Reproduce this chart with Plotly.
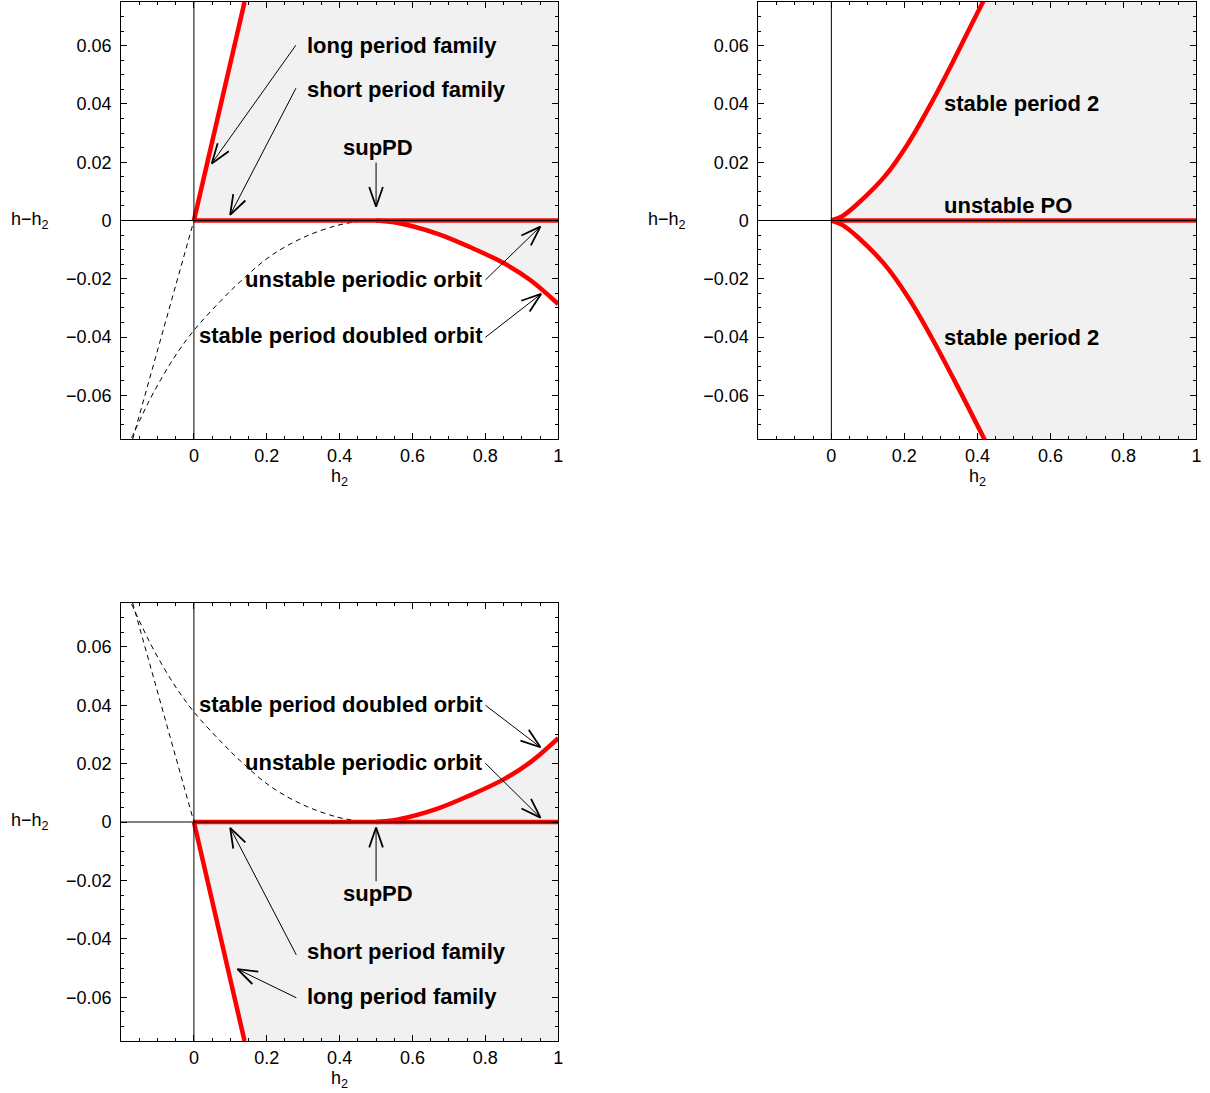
import math
import plotly.graph_objects as go

W, H = 1210, 1093
W_EFF = 1204.5  # horizontal size the page effectively lays the figure out at
X_MIN, X_MAX = -0.2, 1.0
Y_MIN, Y_MAX = -0.075, 0.075

# ---------------- data ----------------
x_tick_vals = [0, 0.2, 0.4, 0.6, 0.8, 1.0]
x_tick_text = ["0", "0.2", "0.4", "0.6", "0.8", "1"]
y_tick_vals = [-0.06, -0.04, -0.02, 0, 0.02, 0.04, 0.06]
y_tick_text = ["\u22120.06", "\u22120.04", "\u22120.02", "0", "0.02", "0.04", "0.06"]

# top-left panel
tl_long_x = [0.0, 0.139]
tl_long_y = [0.0, 0.075]
tl_long_dash_x = [-0.168, 0.0]
tl_long_dash_y = [-0.075, 0.0]
tl_po_x = [0.0, 1.0]
tl_po_y = [0.0, 0.0]
tl_pd_dash_x = [-0.171, -0.14, -0.111, -0.056, 0.0, 0.072, 0.127, 0.209, 0.301, 0.393, 0.45, 0.5]
tl_pd_dash_y = [-0.0746, -0.0663, -0.0591, -0.0474, -0.0377, -0.0278, -0.0210, -0.0123, -0.0058, -0.0017, -0.0004, 0.0]
tl_pd_x = [0.5, 0.557, 0.667, 0.759, 0.85, 0.924, 1.0]
tl_pd_y = [0.0, -0.0008, -0.0045, -0.0092, -0.0146, -0.0205, -0.0287]

# top-right panel
tr_up_x = [0.0, 0.03, 0.075, 0.148, 0.212, 0.276, 0.331, 0.386, 0.42]
tr_up_y = [0.0, 0.0015, 0.0061, 0.0154, 0.0268, 0.0408, 0.0540, 0.0678, 0.0762]
tr_low_x = [0.0, 0.03, 0.075, 0.148, 0.212, 0.276, 0.349, 0.422]
tr_low_y = [0.0, -0.0015, -0.0060, -0.0154, -0.0267, -0.0405, -0.0578, -0.0758]
tr_po_x = [0.0, 1.0]
tr_po_y = [0.0, 0.0]

# bottom-left panel
bl_long_x = [0.0, 0.139]
bl_long_y = [0.0, -0.075]
bl_long_dash_x = [-0.168, 0.0]
bl_long_dash_y = [0.075, 0.0]
bl_po_x = [0.0, 1.0]
bl_po_y = [0.0, 0.0]
bl_pd_dash_x = [-0.171, -0.14, -0.111, -0.056, 0.0, 0.072, 0.127, 0.209, 0.301, 0.393, 0.45, 0.5]
bl_pd_dash_y = [0.0746, 0.0663, 0.0591, 0.0474, 0.0377, 0.0278, 0.0210, 0.0123, 0.0058, 0.0017, 0.0004, 0.0]
bl_pd_x = [0.5, 0.557, 0.667, 0.759, 0.85, 0.924, 1.0]
bl_pd_y = [0.0, 0.0008, 0.0045, 0.0092, 0.0146, 0.0205, 0.0287]

# labels: (text, x, y, xanchor)
tl_labels = [
    ("long period family", 0.304, 0.0602, "left"),
    ("short period family", 0.304, 0.0451, "left"),
    ("supPD", 0.506, 0.0252, "center"),
    ("unstable periodic orbit", 0.800, -0.0201, "right"),
    ("stable period doubled orbit", 0.800, -0.0396, "right"),
]
tr_labels = [
    ("stable period 2", 0.303, 0.0403, "left"),
    ("unstable PO", 0.303, 0.0053, "left"),
    ("stable period 2", 0.303, -0.0400, "left"),
]
bl_labels = [
    ("stable period doubled orbit", 0.800, 0.0403, "right"),
    ("unstable periodic orbit", 0.800, 0.0204, "right"),
    ("supPD", 0.506, -0.0245, "center"),
    ("short period family", 0.304, -0.0444, "left"),
    ("long period family", 0.304, -0.0599, "left"),
]
# arrows: (tail_x, tail_y, tip_x, tip_y)
tl_arrows = [
    (0.280, 0.0602, 0.049, 0.0196),
    (0.280, 0.0454, 0.0995, 0.0019),
    (0.500, 0.0199, 0.500, 0.0047),
    (0.800, -0.0204, 0.951, -0.0021),
    (0.800, -0.0401, 0.953, -0.0252),
]
bl_arrows = [
    (0.800, 0.0400, 0.951, 0.0256),
    (0.800, 0.0201, 0.951, 0.0015),
    (0.500, -0.0203, 0.500, -0.0019),
    (0.281, -0.0455, 0.0995, -0.0020),
    (0.281, -0.0602, 0.1195, -0.0504),
]

# ---------------- layout geometry ----------------
dom_tl = ([121 / W_EFF, 558 / W_EFF], [1 - 439 / H, 1 - 2 / H])
dom_tr = ([758 / W_EFF, 1196 / W_EFF], [1 - 439 / H, 1 - 2 / H])
dom_bl = ([121 / W_EFF, 558 / W_EFF], [1 - 1041 / H, 1 - 603 / H])

RED = "#ff0000"
FILL = "#f1f1f1"
FONT = "Liberation Sans, Arial, Helvetica, sans-serif"

fig = go.Figure()


def add_line(x, y, xa, ya, color, width, dash=None, shape="linear"):
    fig.add_trace(go.Scatter(x=x, y=y, xaxis=xa, yaxis=ya, mode="lines",
                             line=dict(color=color, width=width, dash=dash, shape=shape),
                             hoverinfo="skip", showlegend=False))


def add_fill(x, y, xa, ya):
    fig.add_trace(go.Scatter(x=x, y=y, xaxis=xa, yaxis=ya, mode="lines", fill="toself",
                             fillcolor=FILL, line=dict(width=0, color=FILL),
                             hoverinfo="skip", showlegend=False))


def scales(dom):
    sx = (dom[0][1] - dom[0][0]) * W_EFF / (X_MAX - X_MIN)
    sy = (dom[1][1] - dom[1][0]) * H / (Y_MAX - Y_MIN)
    return sx, sy


def add_arrows(arrows, dom, xa, ya, L=21, ang=19):
    sx, sy = scales(dom)
    for tx, ty, px, py in arrows:
        add_line([tx, px], [ty, py], xa, ya, "black", 1)
        dx, dy = (px - tx) * sx, (py - ty) * sy
        n = math.hypot(dx, dy)
        ux, uy = -dx / n, -dy / n
        hx, hy = [], []
        for s in (1, -1):
            a = math.radians(ang * s)
            rx = ux * math.cos(a) - uy * math.sin(a)
            ry = ux * math.sin(a) + uy * math.cos(a)
            hx.append(px + L * rx / sx)
            hy.append(py + L * ry / sy)
        add_line([hx[0], px, hx[1]], [hy[0], py, hy[1]], xa, ya, "black", 1.8)


# ---- top-left
add_fill(tl_long_x + [X_MAX, X_MAX], tl_long_y + [Y_MAX, 0.0], "x", "y")
add_fill(tl_pd_x + [tl_pd_x[-1]], tl_pd_y + [0.0], "x", "y")
add_line(tl_long_dash_x, tl_long_dash_y, "x", "y", "black", 1, dash="5px,4px")
add_line(tl_pd_dash_x, tl_pd_dash_y, "x", "y", "black", 1, dash="5px,4px", shape="spline")
add_line(tl_po_x, tl_po_y, "x", "y", RED, 4.5)
add_line(tl_pd_x, tl_pd_y, "x", "y", RED, 4.5, shape="spline")
add_line(tl_long_x, tl_long_y, "x", "y", RED, 4.5)
add_arrows(tl_arrows, dom_tl, "x", "y")

# ---- top-right
add_fill(tr_up_x + [X_MAX, X_MAX] + tr_low_x[::-1], tr_up_y + [Y_MAX, Y_MIN] + tr_low_y[::-1], "x2", "y2")
add_line(tr_po_x, tr_po_y, "x2", "y2", RED, 4.5)
add_line(tr_up_x, tr_up_y, "x2", "y2", RED, 4.5, shape="spline")
add_line(tr_low_x, tr_low_y, "x2", "y2", RED, 4.5, shape="spline")

# ---- bottom-left
add_fill(bl_long_x + [X_MAX, X_MAX], bl_long_y + [Y_MIN, 0.0], "x3", "y3")
add_fill(bl_pd_x + [bl_pd_x[-1]], bl_pd_y + [0.0], "x3", "y3")
add_line(bl_long_dash_x, bl_long_dash_y, "x3", "y3", "black", 1, dash="5px,4px")
add_line(bl_pd_dash_x, bl_pd_dash_y, "x3", "y3", "black", 1, dash="5px,4px", shape="spline")
add_line(bl_po_x, bl_po_y, "x3", "y3", RED, 4.5)
add_line(bl_pd_x, bl_pd_y, "x3", "y3", RED, 4.5, shape="spline")
add_line(bl_long_x, bl_long_y, "x3", "y3", RED, 4.5)
add_arrows(bl_arrows, dom_bl, "x3", "y3")

tickfont = dict(family=FONT, size=18, color="black")


def xaxis(dom, anchor):
    return dict(domain=dom, anchor=anchor, range=[X_MIN, X_MAX], showgrid=False, zeroline=False,
                showline=True, linecolor="black", linewidth=1, mirror="ticks",
                ticks="inside", ticklen=6, tickwidth=1, tickcolor="black",
                tickmode="array", tickvals=x_tick_vals, ticktext=x_tick_text, tickfont=tickfont,
                minor=dict(ticks="inside", ticklen=3, tickwidth=1, tickcolor="black",
                           tickmode="linear", tick0=0, dtick=0.05, showgrid=False),
                fixedrange=True)


def yaxis(dom, anchor):
    return dict(domain=dom, anchor=anchor, range=[Y_MIN, Y_MAX], showgrid=False, zeroline=False,
                showline=True, linecolor="black", linewidth=1, mirror="ticks",
                ticks="inside", ticklen=6, tickwidth=1, tickcolor="black",
                tickmode="array", tickvals=y_tick_vals, ticktext=y_tick_text, tickfont=tickfont,
                ticklabelstandoff=5,
                minor=dict(ticks="inside", ticklen=3, tickwidth=1, tickcolor="black",
                           tickmode="linear", tick0=0, dtick=0.005, showgrid=False),
                fixedrange=True)


annotations = []
for labels, xr, yr in ((tl_labels, "x", "y"), (tr_labels, "x2", "y2"), (bl_labels, "x3", "y3")):
    for text, x, y, xanc in labels:
        annotations.append(dict(text="<b>%s</b>" % text, x=x, y=y, xref=xr, yref=yr,
                                xanchor=xanc, yanchor="middle", showarrow=False,
                                font=dict(family=FONT, size=22, color="black")))

axis_font = dict(family=FONT, size=18, color="black")
for dom in (dom_tl, dom_tr, dom_bl):
    xd, yd = dom
    # y label, horizontal, left of the frame at the y=0 level
    annotations.append(dict(text="h\u2212h<sub>2</sub>", xref="paper", yref="paper",
                            x=xd[0] - 91 / W_EFF, y=(yd[0] + yd[1]) / 2, xanchor="center", yanchor="middle",
                            showarrow=False, font=axis_font))
    # x label below frame
    annotations.append(dict(text="h<sub>2</sub>", xref="paper", yref="paper",
                            x=(xd[0] + xd[1]) / 2, y=yd[0] - 38 / H, xanchor="center", yanchor="middle",
                            showarrow=False, font=axis_font))

shapes = []
for xr, yr in (("x", "y"), ("x2", "y2"), ("x3", "y3")):
    shapes.append(dict(type="line", xref=xr + " domain", yref=yr, x0=0, x1=1, y0=0, y1=0,
                       line=dict(color="black", width=1), layer="above"))
    shapes.append(dict(type="line", xref=xr, yref=yr + " domain", x0=0, x1=0, y0=0, y1=1,
                       line=dict(color="black", width=1), layer="above"))

fig.update_layout(
    width=W, height=H, margin=dict(l=0, r=0, t=0, b=0),
    paper_bgcolor="white", plot_bgcolor="white", showlegend=False,
    xaxis=xaxis(dom_tl[0], "y"), yaxis=yaxis(dom_tl[1], "x"),
    xaxis2=xaxis(dom_tr[0], "y2"), yaxis2=yaxis(dom_tr[1], "x2"),
    xaxis3=xaxis(dom_bl[0], "y3"), yaxis3=yaxis(dom_bl[1], "x3"),
    annotations=annotations, shapes=shapes,
)

fig.write_html("out.html")
